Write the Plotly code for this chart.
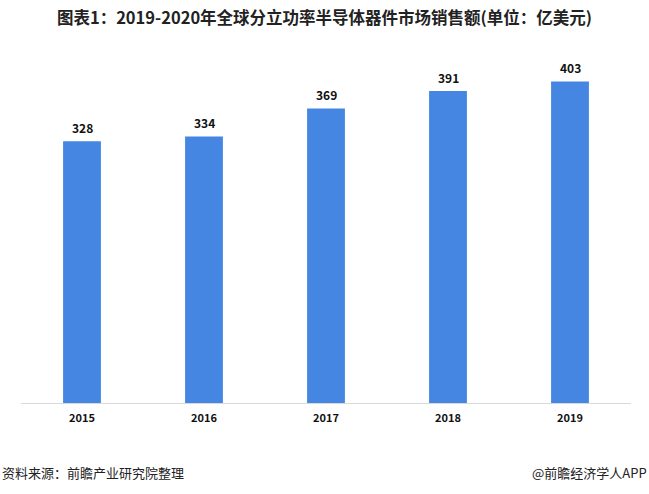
import plotly.graph_objects as go

years = ["2015", "2016", "2017", "2018", "2019"]
sales = [328, 334, 369, 391, 403]

title_text = "图表1：2019-2020年全球分立功率半导体器件市场销售额(单位：亿美元)"
source_text = "资料来源：前瞻产业研究院整理"
brand_text = "@前瞻经济学人APP"

FONT = "Noto Sans CJK SC, Microsoft YaHei, sans-serif"

fig = go.Figure(
    go.Bar(
        x=years,
        y=sales,
        width=0.31,
        marker=dict(color="#4486E2", line=dict(width=0)),
        hoverinfo="x+y",
    )
)

annotations = [
    dict(
        x=i, y=v, xref="x", yref="y",
        text=str(v), showarrow=False,
        yanchor="middle", yshift=14,
        font=dict(family=FONT, size=12, color="#111111", weight="bold"),
    )
    for i, v in enumerate(sales)
]

annotations += [
    dict(
        text=source_text,
        xref="paper", yref="paper",
        x=-21 / 610, y=-(472 - 403) / 359,
        xanchor="left", yanchor="middle",
        showarrow=False,
        font=dict(family=FONT, size=13, color="#222222"),
    ),
    dict(
        text=brand_text,
        xref="paper", yref="paper",
        x=(649 - 21) / 610, y=-(472 - 403) / 359,
        xanchor="right", yanchor="middle",
        showarrow=False,
        font=dict(family=FONT, size=13, color="#222222"),
    ),
]

fig.update_layout(
    width=649,
    height=494,
    margin=dict(l=21, r=18, t=44, b=91),
    paper_bgcolor="white",
    plot_bgcolor="white",
    showlegend=False,
    font=dict(family=FONT),
    title=dict(
        text=title_text,
        x=0.5,
        xanchor="center",
        y=1 - 18 / 494,
        yanchor="middle",
        font=dict(family=FONT, size=16.5, color="#222222", weight="bold"),
    ),
    xaxis=dict(
        type="category",
        range=[-0.5, len(years) - 0.5],
        showline=True,
        linecolor="#D9D9D9",
        linewidth=1,
        ticks="",
        ticklabelstandoff=5,
        tickfont=dict(family=FONT, size=11, color="#111111", weight="bold"),
        showgrid=False,
    ),
    yaxis=dict(
        range=[0, 450],
        visible=False,
        showgrid=False,
        zeroline=False,
    ),
    annotations=annotations,
)

fig.write_html("out.html")
